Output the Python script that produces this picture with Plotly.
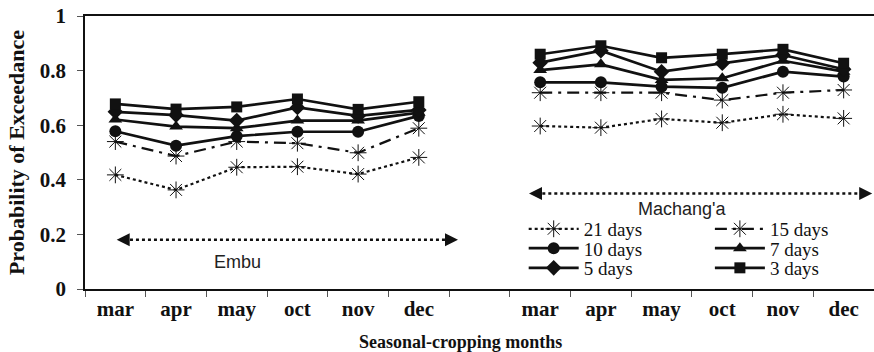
import plotly.graph_objects as go

months = ["mar", "apr", "may", "oct", "nov", "dec"]
sites = ["Embu", "Machang'a"]

# Probability of exceedance, Embu then Machang'a (per month)
p21 = [0.418, 0.363, 0.446, 0.448, 0.421, 0.482,
       0.597, 0.591, 0.623, 0.609, 0.640, 0.625]
p15 = [0.540, 0.487, 0.540, 0.534, 0.499, 0.589,
       0.719, 0.719, 0.719, 0.692, 0.719, 0.729]
p10 = [0.578, 0.525, 0.560, 0.576, 0.576, 0.634,
       0.757, 0.757, 0.741, 0.737, 0.796, 0.778]
p7 = [0.621, 0.595, 0.589, 0.617, 0.617, 0.646,
      0.802, 0.823, 0.766, 0.772, 0.836, 0.796]
p5 = [0.649, 0.637, 0.617, 0.665, 0.634, 0.656,
      0.829, 0.873, 0.796, 0.827, 0.857, 0.805]
p3 = [0.678, 0.659, 0.667, 0.696, 0.658, 0.686,
      0.860, 0.891, 0.847, 0.860, 0.878, 0.827]

y_ticks = [0, 0.2, 0.4, 0.6, 0.8, 1.0]
y_ticktext = ["0", "0.2", "0.4", "0.6", "0.8", "1"]

n = len(months)
gap = 1
pos_embu = list(range(n))
pos_mach = [i + n + gap for i in range(n)]
all_pos = pos_embu + pos_mach
all_labels = months + months

INK = "#111111"
# (name, values, dash, symbol, size, legend id, legend x, legend y)
series = [
    ("21 days", p21, "dot", "asterisk-open", 14, "legend", 0.556, 0.220),
    ("15 days", p15, "12px,6px,3px,6px", "asterisk-open", 14, "legend2", 0.792, 0.220),
    ("10 days", p10, "solid", "circle", 12, "legend3", 0.556, 0.149),
    ("7 days", p7, "solid", "triangle-up", 12, "legend4", 0.792, 0.149),
    ("5 days", p5, "solid", "diamond", 12, "legend5", 0.556, 0.077),
    ("3 days", p3, "solid", "square", 11, "legend6", 0.792, 0.077),
]

fig = go.Figure()
legends = {}
for name, vals, dash, sym, size, leg, lx, ly in series:
    star = sym.startswith("asterisk")
    for k, (xs, ys) in enumerate([(pos_embu, vals[:n]), (pos_mach, vals[n:])]):
        fig.add_trace(go.Scatter(
            x=xs, y=ys, mode="lines+markers", name=name,
            legendgroup=name, showlegend=(k == 0), legend=leg,
            line=dict(color=INK, width=2.2 if star else 2.7, dash=dash),
            marker=dict(symbol=sym, size=size, color=INK,
                        line=dict(color=INK, width=1 if star else 0)),
        ))
    legends[leg] = dict(
        x=lx, y=ly, xanchor="left", yanchor="middle",
        font=dict(family="Liberation Serif", size=19, color=INK),
        bgcolor="rgba(0,0,0,0)", itemwidth=50, tracegroupgap=0,
        itemclick=False, borderwidth=0,
    )

# double-headed dotted arrows marking the sites
arrows = [
    (sites[0], 0.022, 5.646, 0.18, 2.02, 0.099),
    (sites[1], 6.816, 12.47, 0.35, 9.33, 0.292),
]
for label, x0, x1, yv, tx, ty in arrows:
    fig.add_shape(type="line", x0=x0 + 0.12, x1=x1 - 0.12, y0=yv, y1=yv,
                  xref="x", yref="y", line=dict(color=INK, width=2.5, dash="dot"))
    fig.add_annotation(x=x0, y=yv, ax=12, ay=0, xref="x", yref="y",
                       showarrow=True, arrowhead=2, arrowsize=1.3, arrowwidth=2,
                       arrowcolor=INK, text="")
    fig.add_annotation(x=x1, y=yv, ax=-12, ay=0, xref="x", yref="y",
                       showarrow=True, arrowhead=2, arrowsize=1.3, arrowwidth=2,
                       arrowcolor=INK, text="")
    fig.add_annotation(x=tx, y=ty, xref="x", yref="y", text=label, showarrow=False,
                       font=dict(family="Liberation Sans", size=18, color="#222"))

fig.add_annotation(x=0.476, y=-0.194, xref="paper", yref="paper",
                   text="<b>Seasonal-cropping months</b>", showarrow=False,
                   yanchor="middle",
                   font=dict(family="Liberation Serif", size=18, color=INK))

fig.update_layout(
    width=874, height=352,
    margin=dict(l=85, r=0, t=16, b=63),
    paper_bgcolor="white", plot_bgcolor="white",
    font=dict(family="Liberation Serif", color=INK),
    xaxis=dict(
        range=[-0.5, len(all_pos) + gap - 0.5],
        tickmode="array", tickvals=all_pos,
        ticktext=["<b>%s</b>" % t for t in all_labels],
        ticks="", showgrid=False, zeroline=False, automargin=False,
        showline=True, linecolor=INK, linewidth=1.5, mirror=True,
        tickfont=dict(family="Liberation Serif", size=21, color=INK),
        minor=dict(tickmode="linear", tick0=-0.5, dtick=1, ticks="outside",
                   ticklen=6, tickwidth=1, tickcolor="#555", showgrid=False),
    ),
    yaxis=dict(
        range=[0, 1], tickmode="array", tickvals=y_ticks,
        ticktext=["<b>%s</b>" % t for t in y_ticktext],
        ticks="outside", ticklen=6, tickwidth=1, tickcolor="#555",
        ticklabelstandoff=7, automargin=False,
        showgrid=False, zeroline=False,
        showline=True, linecolor=INK, linewidth=1.5,
        tickfont=dict(family="Liberation Serif", size=21, color=INK),
        title=dict(text="<b>Probability of Exceedance</b>", standoff=9,
                   font=dict(family="Liberation Serif", size=22, color=INK)),
    ),
    **legends,
)

fig.write_html("out.html")
